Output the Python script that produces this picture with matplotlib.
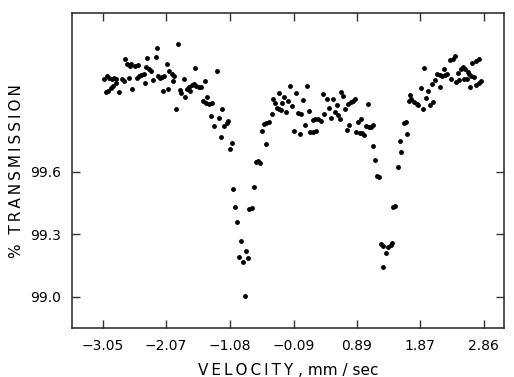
import numpy as np
import matplotlib
matplotlib.use("Agg")
import matplotlib.pyplot as plt

# velocity (mm/sec) and % transmission
velocity = [
    -3.030, -2.993, -2.953, -2.916, -2.876, -2.854, -3.008, -2.968, -2.931, -2.891,
    -2.849, -2.798, -2.761, -2.721, -2.700, -2.669, -2.644, -2.633, -2.607, -2.592,
    -2.548, -2.521, -2.505, -2.490, -2.453, -2.413, -2.402, -2.376, -2.360, -2.340,
    -2.309, -2.274, -2.232, -2.206, -2.197, -2.160, -2.129, -2.119, -2.104, -2.052,
    -2.039, -2.016, -1.981, -1.965, -1.939, -1.913, -1.877, -1.854, -1.831, -1.795,
    -1.777, -1.743, -1.707, -1.692, -1.669, -1.638, -1.619, -1.599, -1.561, -1.522,
    -1.502, -1.465, -1.450, -1.434, -1.399, -1.360, -1.375, -1.329, -1.286, -1.255,
    -1.221, -1.206, -1.167, -1.129, -1.101, -1.082, -1.052, -1.024, -0.998, -0.971,
    -0.936, -0.910, -0.874, -0.851, -0.828, -0.792, -0.782, -0.743, -0.707, -0.673,
    -0.643, -0.612, -0.576, -0.550, -0.519, -0.511, -0.473, -0.431, -0.414, -0.380,
    -0.354, -0.319, -0.311, -0.283, -0.277, -0.241, -0.203, -0.180, -0.138, -0.113,
    -0.076, -0.048, -0.025, 0.006, 0.029, 0.056, 0.093, 0.118, 0.144, 0.171,
    0.211, 0.219, 0.250, 0.258, 0.288, 0.330, 0.360, 0.384, 0.422, 0.453,
    0.484, 0.518, 0.553, 0.592, 0.584, 0.623, 0.651, 0.677, 0.712, 0.739,
    0.762, 0.774, 0.800, 0.828, 0.862, 0.885, 0.916, 0.934, 0.955, 0.970,
    1.006, 1.039, 1.062, 1.078, 1.109, 1.137, 1.147, 1.178, 1.210, 1.240,
    1.263, 1.294, 1.302, 1.343, 1.379, 1.418, 1.441, 1.456, 1.487, 1.533,
    1.564, 1.584, 1.618, 1.661, 1.672, 1.705, 1.718, 1.739, 1.780, 1.819,
    1.842, 1.881, 1.919, 1.942, 1.970, 1.996, 2.022, 2.061, 2.073, 2.112,
    2.138, 2.177, 2.189, 2.220, 2.243, 2.266, 2.294, 2.331, 2.356, 2.382,
    2.418, 2.433, 2.467, 2.485, 2.502, 2.533, 2.552, 2.570, 2.598, 2.618,
    2.637, 2.652, 2.668, 2.675, 2.706, 2.734, 2.742, 2.783, 2.794, 2.819,
]
transmission = [
    100.047, 100.058, 100.052, 100.047, 100.050, 100.044, 99.983, 99.988, 100.004, 100.010,
    100.026, 99.983, 100.043, 100.034, 100.139, 100.115, 100.052, 100.106, 100.119, 99.999,
    100.106, 100.050, 100.111, 100.058, 100.063, 100.071, 100.027, 100.103, 100.146, 100.092,
    100.082, 100.042, 100.151, 100.193, 100.058, 100.050, 100.054, 99.986, 100.060, 100.115,
    99.995, 100.082, 100.071, 100.034, 100.061, 99.903, 100.211, 99.991, 99.979, 100.046,
    99.959, 99.998, 100.007, 99.986, 100.018, 100.023, 100.099, 100.013, 100.007, 100.006,
    99.938, 100.037, 99.929, 99.958, 99.924, 99.929, 99.866, 99.820, 100.084, 99.857,
    99.767, 99.899, 99.821, 99.834, 99.842, 99.711, 99.739, 99.515, 99.431, 99.360,
    99.190, 99.266, 99.167, 99.002, 99.221, 99.183, 99.420, 99.425, 99.527, 99.647,
    99.652, 99.642, 99.794, 99.831, 99.732, 99.834, 99.836, 99.876, 99.947, 99.929,
    99.905, 99.979, 99.899, 99.895, 99.932, 99.959, 99.887, 99.940, 100.009, 99.914,
    99.796, 99.979, 99.881, 99.783, 99.875, 99.943, 99.823, 100.010, 99.892, 99.791,
    99.847, 99.791, 99.852, 99.796, 99.851, 99.844, 99.972, 99.875, 99.947, 99.908,
    99.860, 99.947, 99.887, 99.871, 99.919, 99.851, 99.983, 99.961, 99.900, 99.799,
    99.927, 99.826, 99.935, 99.941, 99.947, 99.791, 99.839, 99.787, 99.851, 99.785,
    99.775, 99.821, 99.923, 99.815, 99.812, 99.822, 99.722, 99.655, 99.578, 99.574,
    99.252, 99.242, 99.143, 99.211, 99.236, 99.247, 99.257, 99.428, 99.437, 99.623,
    99.746, 99.695, 99.835, 99.839, 99.779, 99.938, 99.970, 99.948, 99.934, 99.927,
    99.919, 100.002, 99.901, 100.099, 99.954, 99.986, 99.919, 100.021, 99.935, 100.039,
    100.071, 100.007, 100.063, 100.061, 100.095, 100.063, 100.071, 100.135, 100.045, 100.140,
    100.157, 100.032, 100.075, 100.039, 100.095, 100.103, 100.045, 100.094, 100.047, 100.080,
    100.067, 100.005, 100.060, 100.121, 100.056, 100.129, 100.015, 100.026, 100.139, 100.034,
]

xticks = [-3.05, -2.07, -1.08, -0.09, 0.89, 1.87, 2.86]
xticklabels = ["\u22123.05", "\u22122.07", "\u22121.08", "\u22120.09", "0.89", "1.87", "2.86"]
yticks = [99.0, 99.3, 99.6]
yticklabels = ["99.0", "99.3", "99.6"]

fig = plt.figure(figsize=(5.14, 3.77), dpi=100)
ax = fig.add_axes([0.140, 0.130, 0.841, 0.835])

ax.plot(velocity, transmission, 'o', color='black', markersize=3.5, markeredgewidth=0)

ax.set_xlim(-3.53, 3.18)
ax.set_ylim(98.849, 100.361)

ax.set_xticks(xticks)
ax.set_xticklabels(xticklabels)
ax.set_yticks(yticks)
ax.set_yticklabels(yticklabels)
ax.tick_params(direction='in', length=6, width=1, top=True, right=True,
               labelsize=10, pad=8, color='#333333')

for sp in ax.spines.values():
    sp.set_linewidth(1.1)
    sp.set_color('#222222')

# letter-spaced axis titles, as in the original
ax.set_xlabel("\u2009".join("VELOCITY") + " , mm / sec", fontsize=11, labelpad=7)
ax.set_ylabel("%  " + "\u2009".join("TRANSMISSION"), fontsize=11, labelpad=4)

fig.savefig("out.png", dpi=100)
